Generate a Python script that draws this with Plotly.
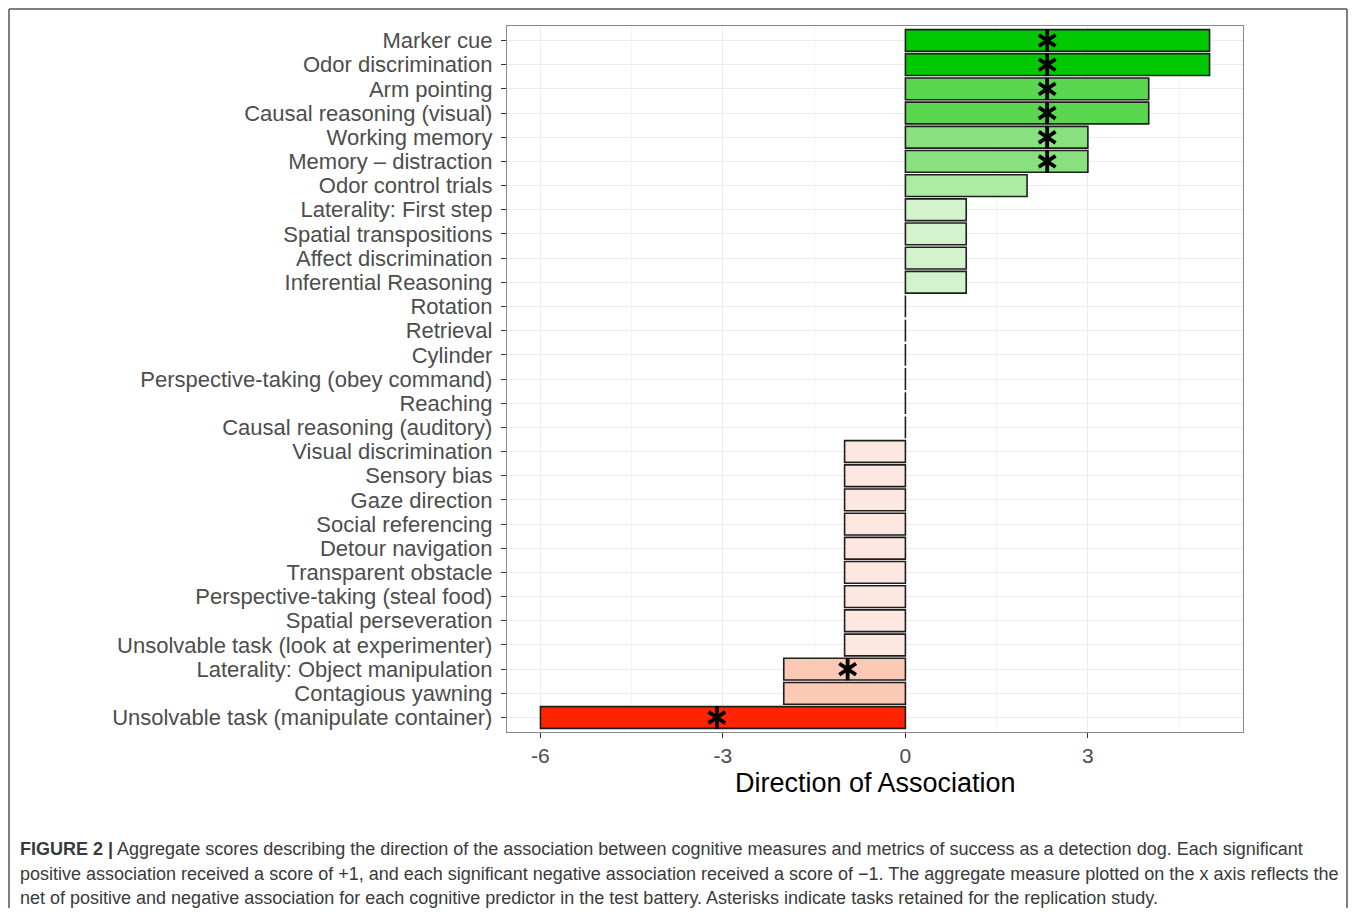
import plotly.graph_objects as go

categories = [
    "Marker cue", "Odor discrimination", "Arm pointing", "Causal reasoning (visual)",
    "Working memory", "Memory – distraction", "Odor control trials", "Laterality: First step",
    "Spatial transpositions", "Affect discrimination", "Inferential Reasoning", "Rotation",
    "Retrieval", "Cylinder", "Perspective-taking (obey command)", "Reaching",
    "Causal reasoning (auditory)", "Visual discrimination", "Sensory bias", "Gaze direction",
    "Social referencing", "Detour navigation", "Transparent obstacle",
    "Perspective-taking (steal food)", "Spatial perseveration",
    "Unsolvable task (look at experimenter)", "Laterality: Object manipulation",
    "Contagious yawning", "Unsolvable task (manipulate container)",
]
scores = [5, 5, 4, 4, 3, 3, 2, 1, 1, 1, 1, 0, 0, 0, 0, 0, 0,
          -1, -1, -1, -1, -1, -1, -1, -1, -1, -2, -2, -6]

score_colors = {
    5: "#00C800", 4: "#5AD650", 3: "#88E07E", 2: "#ACEBA2", 1: "#D2F3CB",
    0: "#D2F3CB", -1: "#FDE8E1", -2: "#FBC9B6", -6: "#FF2400",
}

star_rows = ["Marker cue", "Odor discrimination", "Arm pointing", "Causal reasoning (visual)",
             "Working memory", "Memory – distraction", "Laterality: Object manipulation",
             "Unsolvable task (manipulate container)"]
star_x = [2.33, 2.33, 2.33, 2.33, 2.33, 2.33, -0.95, -3.1]

x_ticks = [-6, -3, 0, 3]

caption_lines = [
    "<b>FIGURE 2 |</b> Aggregate scores describing the direction of the association between cognitive measures and metrics of success as a detection dog. Each significant",
    "positive association received a score of +1, and each significant negative association received a score of \u22121. The aggregate measure plotted on the x axis reflects the",
    "net of positive and negative association for each cognitive predictor in the test battery. Asterisks indicate tasks retained for the replication study.",
]

OFF = 8  # page body margin
W, H = 1357 - 2 * OFF, 916 - 2 * OFF
# panel edges in page pixels
PL, PR, PT, PB = 507, 1243, 26, 732
L, R, T, B = PL - OFF, W - (PR - OFF), PT - OFF, H - (PB - OFF)
pw, ph = W - L - R, H - T - B

def px_x(p):
    return (p - OFF - L) / pw

def px_y(p):
    return (H - B - (p - OFF)) / ph

FONT = "Liberation Sans, Arial, sans-serif"

fig = go.Figure()
fig.add_trace(go.Bar(
    x=scores, y=categories, orientation="h", width=0.9,
    marker=dict(color=[score_colors[s] for s in scores],
                line=dict(color="#1e1e1e", width=1.6)),
    showlegend=False, hoverinfo="x+y",
))

for sym in ["y-up", "y-down"]:
    fig.add_trace(go.Scatter(
        x=star_x, y=star_rows, mode="markers", showlegend=False, hoverinfo="skip",
        marker=dict(symbol=sym, size=14, color="black",
                    line=dict(color="black", width=3.8)),
    ))

fig.add_annotation(x=0.5, y=px_y(783), xref="paper", yref="paper",
                   text="Direction of Association", showarrow=False,
                   font=dict(family=FONT, size=27, color="black"),
                   xanchor="center", yanchor="middle")

cap_y = [849, 874, 898]
for line, yy in zip(caption_lines, cap_y):
    fig.add_annotation(x=px_x(18), y=px_y(yy), xref="paper", yref="paper",
                       text=line, showarrow=False, xanchor="left", yanchor="middle",
                       font=dict(family=FONT, size=18, color="#3a3a3a"))

# outer frame (edges sit just inside the figure)
frame = dict(color="#555555", width=1.5)
x_left, x_right = px_x(OFF + 1), px_x(OFF + W - 2)
y_top, y_bot = px_y(OFF + 1), px_y(940)
fig.add_shape(type="line", xref="paper", yref="paper", x0=x_left, x1=x_right, y0=y_top, y1=y_top, line=frame)
fig.add_shape(type="line", xref="paper", yref="paper", x0=x_left, x1=x_left, y0=y_top, y1=y_bot, line=frame)
fig.add_shape(type="line", xref="paper", yref="paper", x0=x_right, x1=x_right, y0=y_top, y1=y_bot, line=frame)

fig.update_layout(
    width=W, height=H,
    margin=dict(l=L, r=R, t=T, b=B, autoexpand=False),
    paper_bgcolor="white", plot_bgcolor="white",
    font=dict(family=FONT, color="#4D4D4D"),
    bargap=0.1,
)
fig.update_xaxes(
    range=[-6.55, 5.55], tickvals=x_ticks, ticktext=[str(v) for v in x_ticks],
    showgrid=True, gridcolor="#EBEBEB", gridwidth=1.2, zeroline=False,
    minor=dict(dtick=1.5, tick0=0, showgrid=True, gridcolor="#F4F4F4", gridwidth=0.6),
    ticks="outside", ticklen=5, tickcolor="#333333", tickwidth=1.2,
    tickfont=dict(size=21, color="#4D4D4D"),
    showline=True, linecolor="#8A8A8A", linewidth=1.3, mirror=True,
)
fig.update_yaxes(
    categoryorder="array", categoryarray=categories[::-1],
    tickmode="array", tickvals=categories, ticktext=categories,
    range=[-0.6, len(categories) - 0.4],
    showgrid=True, gridcolor="#EBEBEB", gridwidth=1.2, zeroline=False,
    ticks="outside", ticklen=5, tickcolor="#333333", tickwidth=1.2,
    ticklabelstandoff=4,
    tickfont=dict(size=22, color="#4D4D4D"),
    showline=True, linecolor="#8A8A8A", linewidth=1.3, mirror=True,
)

fig.write_html("out.html")
